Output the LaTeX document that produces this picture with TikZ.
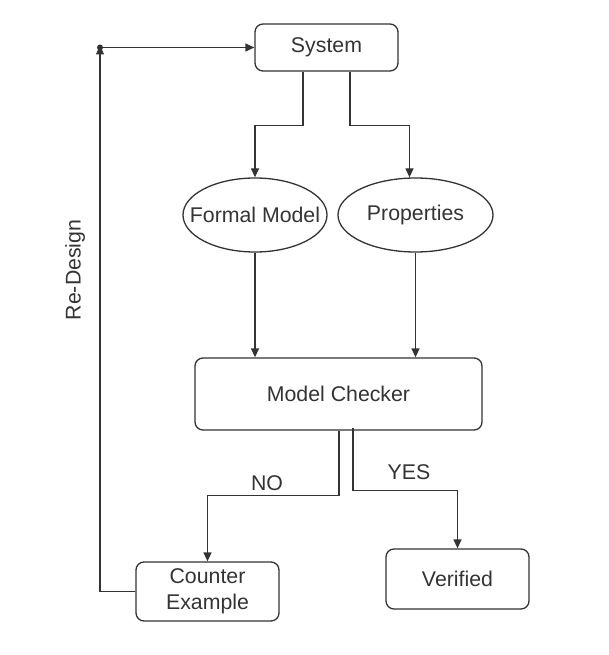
\documentclass[tikz,border=0pt]{standalone}
\usepackage{fontspec}
\setmainfont{Liberation Sans}
\usetikzlibrary{arrows.meta,shapes.geometric,calc}
\definecolor{ink}{HTML}{333333}
\begin{document}
\begin{tikzpicture}[x=1pt,y=-1pt,
  every node/.style={font=\fontsize{21.3}{26.5}\selectfont, text=ink},
  box/.style={draw=ink, line width=1.3pt, rounded corners=8pt, inner sep=0pt, align=center},
  oval/.style={draw=ink, line width=1.3pt, ellipse, inner sep=0pt},
  arr/.style={draw=ink, line width=1.3pt, -{Triangle[length=9pt,width=8pt]}},
  ln/.style={draw=ink, line width=1.3pt}]
\useasboundingbox (0,0) rectangle (608,655);
\node[box, minimum width=143pt, minimum height=47pt] (sys) at (326.5,47.5) {System};
\node[oval, minimum width=144pt, minimum height=74pt] (fm) at (255,215) {};
\node (fmt) at (fm.center) {Formal Model};
\node[oval, minimum width=155pt, minimum height=74pt] (pr) at (415.5,215) {};
\node (prt) at (pr.center) {Properties};
\node[box, minimum width=287pt, minimum height=72pt] (mc) at (338.5,394) {Model Checker};
\node[box, minimum width=143pt, minimum height=59pt] (ce) at (207.5,591.5) {Counter\\Example};
\node[box, minimum width=143pt, minimum height=60pt] (ve) at (457.5,579) {Verified};
\node (no) at (267,483) {NO};
\node (yes) at (409,472) {YES};
\node[rotate=90] (rd) at (75,270) {Re-Design};
\coordinate (dot) at (100,47.5);
\fill[ink] (dot) circle (3pt);
\draw[arr] ($(sys.south)+(-23.5,0)$) -- ++(0,54) -| (fm.north);
\draw[arr] ($(sys.south)+(23.5,0)$) -- ++(0,54) -| ([xshift=-6pt]pr.north);
\draw[arr] (fm.south) -- (fm.south |- mc.north);
\draw[arr] (pr.south) -- (pr.south |- mc.north);
\draw[arr] ($(mc.south)+(0.5,0)$) -- ++(0,65) -| (ce.north);
\draw[arr] ($(mc.south)+(14.5,-3)$) -- ++(0,63) -| (ve.north);
\draw[arr] (ce.west) -| ([yshift=2pt]dot);
\draw[arr] (dot) -- (sys.west);
\end{tikzpicture}
\end{document}
